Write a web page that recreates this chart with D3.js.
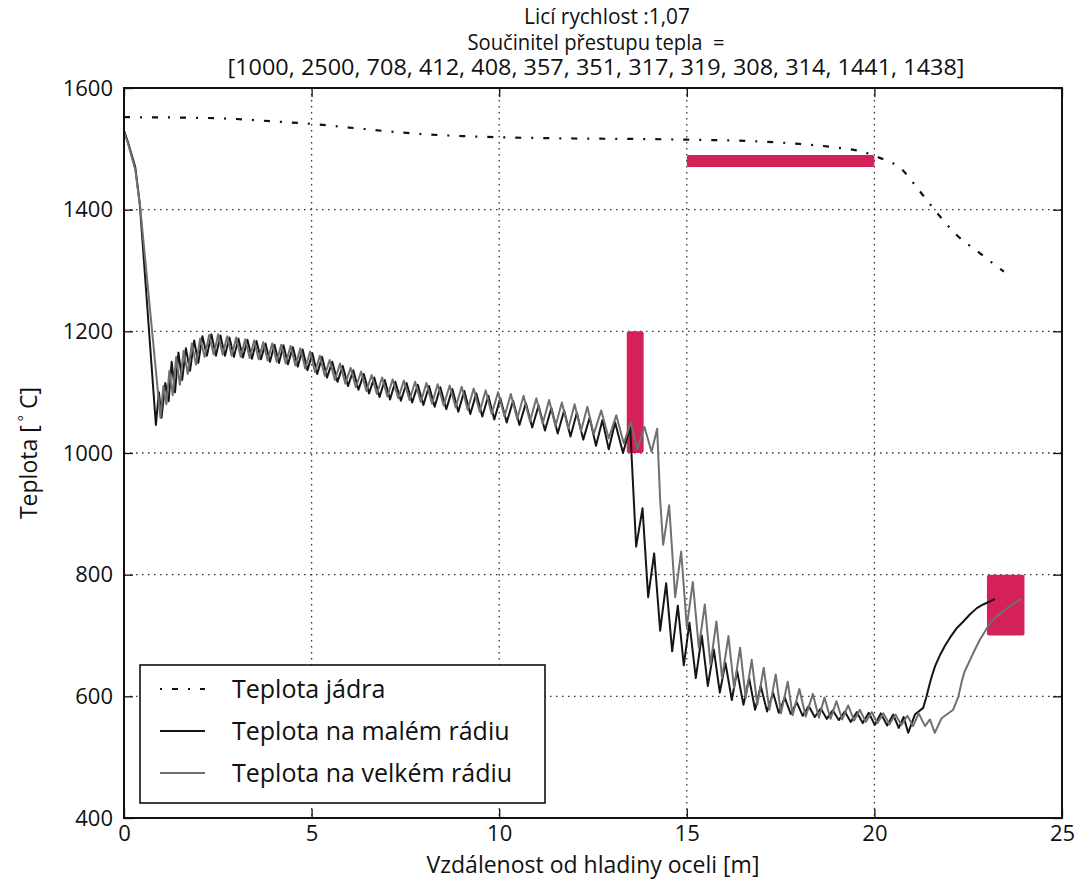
<!doctype html>
<html lang="cs">
<head>
	<meta charset="UTF-8">
	<title>Teplota na radiusech</title>
	<script src="https://cdn.jsdelivr.net/npm/d3@7"></script>
	<style>
		body { margin: 0; background: #fff; }
		text { font-family: 'Open Sans', sans-serif; fill: #111; }
	</style>
</head>
<body>
	<div id="chart"></div>
	<script>
		// ---- data ----
		var xTicks = [0, 5, 10, 15, 20, 25]
		var yTicks = [400, 600, 800, 1000, 1200, 1400, 1600]
		var titleLines = ['Licí rychlost :1,07', 'Součinitel přestupu tepla  =',
			'[1000, 2500, 708, 412, 408, 357, 351, 317, 319, 308, 314, 1441, 1438]']
		var legendLabels = ['Teplota jádra', 'Teplota na malém rádiu', 'Teplota na velkém rádiu']

		// [x0, x1, y0, y1] of the highlighted limits
		var zones = [[13.4, 13.85, 1000, 1200], [15, 20, 1470, 1490], [23, 24, 700, 800]]

		var coreTemp = [[0,1552],[2,1551],[3,1549],[4,1545],[5,1541],[6,1535],[7,1529],[8,1524],[9,1521],[10,1519],
			[12,1517],[14,1516],[15,1515],[16,1514],[17,1512],[18,1508],[19,1502],[19.7,1495],[20.1,1486],
			[20.7,1468],[21.2,1431],[21.6,1400],[22.2,1358],[22.8,1329],[23.45,1298]]

		var smallRadius = [[0,1530],[0.1,1512],[0.3,1470],[0.42,1410],[0.85,1046],
			[0.93,1100],[1.0,1058],[1.1,1115],[1.19,1085],[1.27,1150],[1.36,1100],[1.45,1165],[1.55,1120],[1.65,1172],[1.76,1135],
			[1.87,1185],[1.98,1148],[2.09,1192],[2.21,1160],[2.33,1195],[2.45,1160],[2.57,1193],[2.69,1160],[2.81,1190],[2.93,1158],
			[3.05,1188],[3.17,1157],[3.29,1186],[3.41,1155],[3.53,1184],[3.65,1154],[3.77,1180],[3.89,1150],[4.01,1178],[4.13,1148],
			[4.25,1177],[4.37,1146],[4.5,1174],[4.63,1142],[4.76,1170],[4.89,1136],[5.02,1164],[5.15,1130],[5.28,1158],[5.41,1124],
			[5.55,1150],[5.69,1117],[5.83,1143],[5.97,1110],[6.11,1136],[6.25,1104],[6.39,1130],[6.53,1098],[6.67,1124],[6.81,1092],
			[6.95,1120],[7.09,1088],[7.23,1117],[7.38,1086],[7.53,1115],[7.68,1083],[7.83,1112],[7.98,1079],[8.13,1110],[8.28,1076],
			[8.43,1108],[8.59,1072],[8.75,1105],[8.91,1068],[9.07,1102],[9.23,1064],[9.39,1098],[9.55,1060],[9.71,1094],[9.87,1055],
			[10.03,1090],[10.2,1050],[10.37,1086],[10.54,1046],[10.71,1082],[10.88,1042],[11.05,1078],[11.22,1037],[11.39,1074],[11.56,1032],
			[11.73,1070],[11.9,1027],[12.07,1066],[12.24,1022],[12.41,1058],[12.58,1012],[12.75,1054],[12.92,1006],[13.09,1050],[13.3,1000],
			[13.49,1043],[13.65,846],[13.82,909],[13.97,763],[14.13,835],[14.29,708],[14.45,786],[14.61,674],[14.76,749],[14.92,651],
			[15.07,721],[15.24,630],[15.4,700],[15.56,617],[15.72,677],[15.88,606],[16.03,655],[16.2,594],[16.34,642],[16.51,586],
			[16.66,630],[16.82,578],[16.97,617],[17.14,575],[17.3,606],[17.45,573],[17.61,598],[17.77,571],[17.93,590],[18.09,568],
			[18.25,584],[18.41,566],[18.57,580],[18.73,563],[18.89,577],[19.05,561],[19.21,575],[19.37,558],[19.53,574],[19.69,556],
			[19.85,573],[20.01,553],[20.17,572],[20.34,552],[20.5,570],[20.65,548],[20.78,566],[20.9,540],
			[21.08,570],[21.3,581],[21.39,600],[21.45,615],[21.53,633],[21.62,650],[21.75,668],[21.88,683],[22.01,696],[22.18,711],
			[22.37,723],[22.55,735],[22.73,745],[22.9,751],[23.08,756],[23.21,760]]

		var largeRadius = [[0,1528],[0.1,1510],[0.3,1466],[0.43,1405],[0.97,1058],
			[1.05,1110],[1.13,1080],[1.21,1135],[1.3,1095],[1.39,1158],[1.49,1112],[1.59,1168],[1.7,1130],[1.81,1180],[1.92,1145],
			[2.03,1188],[2.15,1158],[2.27,1194],[2.39,1162],[2.51,1195],[2.63,1162],[2.75,1192],[2.87,1160],[2.99,1190],[3.11,1158],
			[3.23,1187],[3.35,1156],[3.47,1185],[3.59,1154],[3.71,1182],[3.83,1152],[3.95,1180],[4.07,1150],[4.19,1178],[4.31,1147],
			[4.44,1176],[4.57,1144],[4.7,1172],[4.83,1139],[4.96,1167],[5.09,1133],[5.22,1160],[5.35,1127],[5.48,1153],[5.62,1120],
			[5.76,1147],[5.9,1114],[6.04,1140],[6.18,1108],[6.32,1134],[6.46,1102],[6.6,1128],[6.74,1097],[6.88,1124],[7.02,1093],
			[7.16,1121],[7.31,1090],[7.46,1119],[7.61,1087],[7.76,1117],[7.91,1084],[8.06,1115],[8.21,1081],[8.36,1113],[8.52,1078],
			[8.68,1111],[8.84,1075],[9.0,1109],[9.16,1071],[9.32,1106],[9.48,1068],[9.64,1103],[9.8,1064],[9.97,1100],[10.14,1060],
			[10.31,1097],[10.48,1056],[10.65,1094],[10.82,1052],[10.99,1090],[11.16,1048],[11.33,1087],[11.5,1044],[11.67,1083],[11.84,1040],
			[12.01,1080],[12.18,1036],[12.35,1076],[12.52,1031],[12.72,1070],[12.92,1024],[13.12,1062],[13.32,1016],[13.51,1050],[13.68,1006],
			[13.87,1043],[14.06,1002],[14.21,1040],[14.29,923],[14.37,849],[14.53,914],[14.69,763],[14.85,838],[15.0,714],[15.16,788],
			[15.32,680],[15.48,751],[15.63,652],[15.79,723],[15.94,630],[16.11,699],[16.26,614],[16.42,680],[16.57,597],[16.73,660],
			[16.88,586],[17.05,647],[17.2,578],[17.37,636],[17.51,572],[17.69,624],[17.82,569],[18.0,612],[18.17,567],[18.36,604],
			[18.52,565],[18.67,598],[18.83,563],[18.99,592],[19.14,562],[19.3,585],[19.46,560],[19.61,578],[19.77,558],[19.93,574],
			[20.08,556],[20.24,572],[20.4,554],[20.56,570],[20.72,553],[20.88,568],[21.03,551],[21.18,572],[21.35,551],[21.48,562],
			[21.61,540],[21.79,564],[22.1,578],[22.24,600],[22.33,625],[22.4,640],[22.55,660],[22.68,677],[22.81,693],[22.95,707],
			[23.08,720],[23.25,731],[23.44,740],[23.65,750],[23.92,760]]

		// ---- layout ----
		var W = 1077, H = 881
		var plot = {left: 124, right: 1062, top: 88, bottom: 818}

		var svg = d3.select('#chart').append('svg')
			.attr('width', W)
			.attr('height', H)

		var x = d3.scaleLinear().domain([0, 25]).range([plot.left, plot.right])
		var y = d3.scaleLinear().domain([400, 1600]).range([plot.bottom, plot.top])

		var pw = plot.right - plot.left
		var ph = plot.bottom - plot.top

		/* ------------------------------- grid ------------------------------- */
		var grid = svg.append('g').attr('class', 'grid')
		grid.selectAll('.vgrid')
			.data(xTicks.filter(function(d) { return d > 0 && d < 25 }))
			.enter().append('line')
			.attr('x1', function(d) { return x(d) })
			.attr('x2', function(d) { return x(d) })
			.attr('y1', plot.top)
			.attr('y2', plot.bottom)
		grid.selectAll('.hgrid')
			.data(yTicks.filter(function(d) { return d > 400 && d < 1600 }))
			.enter().append('line')
			.attr('x1', plot.left)
			.attr('x2', plot.right)
			.attr('y1', function(d) { return y(d) })
			.attr('y2', function(d) { return y(d) })
		grid.selectAll('line')
			.attr('stroke', '#333')
			.attr('stroke-width', 1.3)
			.attr('stroke-dasharray', '1.5,4.5')

		/* ---------------------------- red limits ---------------------------- */
		svg.append('g').selectAll('rect')
			.data(zones)
			.enter().append('rect')
			.attr('x', function(d) { return x(d[0]) })
			.attr('y', function(d) { return y(d[3]) })
			.attr('width', function(d) { return x(d[1]) - x(d[0]) })
			.attr('height', function(d) { return y(d[2]) - y(d[3]) })
			.attr('rx', 2)
			.attr('fill', '#d42157')

		/* ------------------------------ curves ------------------------------ */
		var line = d3.line()
			.x(function(d) { return x(d[0]) })
			.y(function(d) { return y(d[1]) })

		svg.append('path')
			.datum(coreTemp)
			.attr('d', line.curve(d3.curveMonotoneX))
			.attr('fill', 'none')
			.attr('stroke', '#111')
			.attr('stroke-width', 2.2)
			.attr('stroke-dasharray', '6,10,2,10')

		line.curve(d3.curveLinear)

		svg.append('path')
			.datum(smallRadius)
			.attr('d', line)
			.attr('fill', 'none')
			.attr('stroke', '#151515')
			.attr('stroke-width', 2)
			.attr('stroke-linejoin', 'round')

		svg.append('path')
			.datum(largeRadius)
			.attr('d', line)
			.attr('fill', 'none')
			.attr('stroke', '#707070')
			.attr('stroke-width', 2)
			.attr('stroke-linejoin', 'round')

		/* ------------------------------- axes ------------------------------- */
		var axBottom = svg.append('g')
			.attr('transform', 'translate(0,' + plot.bottom + ')')
			.call(d3.axisBottom(x).tickValues(xTicks).tickSize(-9).tickPadding(7))
		var axTop = svg.append('g')
			.attr('transform', 'translate(0,' + plot.top + ')')
			.call(d3.axisTop(x).tickValues(xTicks).tickSize(-9).tickFormat(''))
		var axLeft = svg.append('g')
			.attr('transform', 'translate(' + plot.left + ',0)')
			.call(d3.axisLeft(y).tickValues(yTicks).tickSize(-9).tickPadding(11).tickFormat(d3.format('d')))
		var axRight = svg.append('g')
			.attr('transform', 'translate(' + plot.right + ',0)')
			.call(d3.axisRight(y).tickValues(yTicks).tickSize(-9).tickFormat(''))

		;[axBottom, axTop, axLeft, axRight].forEach(function(a) {
			a.select('.domain').remove()
			a.selectAll('.tick line').attr('stroke', '#111').attr('stroke-width', 1.3)
			a.selectAll('.tick text')
				.style('font-family', "'Open Sans', sans-serif")
				.style('font-size', '22px')
				.attr('fill', '#111')
		})

		svg.append('rect')
			.attr('x', plot.left)
			.attr('y', plot.top)
			.attr('width', pw)
			.attr('height', ph)
			.attr('fill', 'none')
			.attr('stroke', '#111')
			.attr('stroke-width', 2)

		/* ------------------------------- text ------------------------------- */
		var titleWidths = [166, 257, 737]
		svg.append('g').selectAll('text')
			.data(titleLines)
			.enter().append('text')
			.attr('x', function(d, i) { return i == 0 ? 607 : 596 })
			.attr('y', function(d, i) { return 24 + i * 25.5 })
			.attr('text-anchor', 'middle')
			.attr('textLength', function(d, i) { return titleWidths[i] })
			.attr('lengthAdjust', 'spacingAndGlyphs')
			.style('font-size', '21px')
			.style('white-space', 'pre')
			.text(function(d) { return d })

		svg.append('text')
			.attr('x', (plot.left + plot.right) / 2)
			.attr('y', 873)
			.attr('text-anchor', 'middle')
			.style('font-size', '23px')
			.text('Vzdálenost od hladiny oceli [m]')

		var ylab = svg.append('text')
			.attr('transform', 'translate(37,' + ((plot.top + plot.bottom) / 2) + ') rotate(-90)')
			.attr('text-anchor', 'middle')
			.style('font-size', '23px')
		ylab.append('tspan').text('Teplota [')
		ylab.append('tspan').attr('dy', -8).style('font-size', '15px').text(' °')
		ylab.append('tspan').attr('dy', 8).text(' C]')

		/* ------------------------------ legend ------------------------------ */
		var legend = svg.append('g').attr('transform', 'translate(140,665)')
		legend.append('rect')
			.attr('width', 405)
			.attr('height', 138)
			.attr('fill', '#fff')
			.attr('stroke', '#111')
			.attr('stroke-width', 1.6)

		var legendStyles = [
			{stroke: '#111', dash: '2,10,6,10'},
			{stroke: '#151515', dash: null},
			{stroke: '#707070', dash: null}
		]
		legendLabels.forEach(function(label, i) {
			var ly = 24 + i * 42
			legend.append('line')
				.attr('x1', 20).attr('x2', 65)
				.attr('y1', ly).attr('y2', ly)
				.attr('stroke', legendStyles[i].stroke)
				.attr('stroke-width', 2)
				.attr('stroke-dasharray', legendStyles[i].dash)
			legend.append('text')
				.attr('x', 92)
				.attr('y', ly + 9)
				.style('font-size', '25px')
				.text(label)
		})
	</script>
</body>
</html>
